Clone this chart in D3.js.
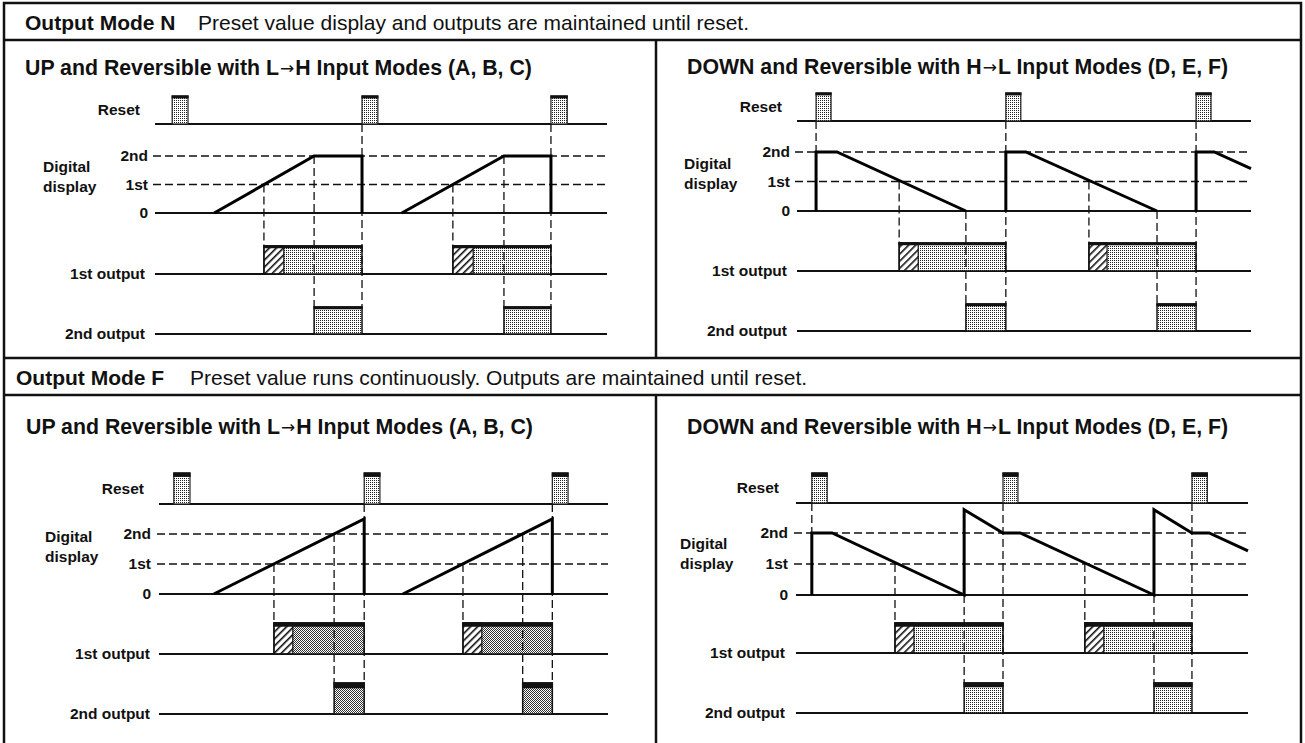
<!DOCTYPE html>
<html>
<head>
<meta charset="utf-8">
<script src="https://cdn.jsdelivr.net/npm/d3@7/dist/d3.min.js"></script>
<style>
  html, body { margin: 0; padding: 0; background: #fff; }
  svg { display: block; }
  text { font-family: "Liberation Sans", Arial, Helvetica, sans-serif; fill: #111; }
</style>
</head>
<body>
<svg id="chart" width="1305" height="743"></svg>
<script>
// ---------------- DATA ----------------
const headerN = ["Output Mode N", "Preset value display and outputs are maintained until reset."];
const headerF = ["Output Mode F", "Preset value runs continuously. Outputs are maintained until reset."];
const titleUp = ["UP and Reversible with L", "\u2192", "H Input Modes (A, B, C)"];
const titleDown = ["DOWN and Reversible with H", "\u2192", "L Input Modes (D, E, F)"];
const rowLabels = ["Reset", "Digital", "display", "1st output", "2nd output"];
const levelLabels = ["0", "1st", "2nd"];
const levelValues = [0, 1, 2];

// time axis 0..100 (arbitrary units) per panel; display levels 0 = "0", 1 = "1st", 2 = "2nd"
// Mode N, UP
const nUpReset = [[3.8, 7.3], [45.8, 49.3], [87.6, 91.2]];
const nUpDisplay = [
  [[13.1, 0], [35.2, 2], [45.8, 2], [45.8, 0]],
  [[54.6, 0], [77.2, 2], [87.6, 2], [87.6, 0]]
];
const nUpOut1 = [[24.1, 28.5, 45.8], [65.9, 70.4, 87.6]];   // start, end of hatched part, end
const nUpOut2 = [[35.2, 45.8], [77.2, 87.6]];
const nUpGuides = [[24.1, "lvl1", "out1"], [35.2, "lvl2", "out2"], [45.8, "reset", "out2"],
                   [65.9, "lvl1", "out1"], [77.2, "lvl2", "out2"], [87.6, "reset", "out2"]];

// Mode N, DOWN
const nDownReset = [[4.2, 7.5], [46.0, 49.3], [87.9, 91.2]];
const nDownDisplay = [
  [[4.2, 0], [4.2, 2], [8.8, 2], [37.2, 0]],
  [[46.0, 0], [46.0, 2], [50.4, 2], [79.3, 0]],
  [[87.9, 0], [87.9, 2], [91.9, 2], [100, 1.44]]
];
const nDownOut1 = [[22.5, 26.7, 46.0], [64.3, 68.3, 87.9]];
const nDownOut2 = [[37.2, 46.0], [79.3, 87.9]];
const nDownGuides = [[4.2, "reset", "lvl2"], [22.5, "lvl1", "out1"], [37.2, "lvl0", "out2"], [46.0, "reset", "out2"],
                     [64.3, "lvl1", "out1"], [79.3, "lvl0", "out2"], [87.9, "reset", "out2"]];

// Mode F, UP
const fUpReset = [[3.3, 6.9], [45.7, 49.2], [87.6, 91.1]];
const fUpDisplay = [
  [[12.2, 0], [45.7, 2.5], [45.7, 0]],
  [[54.3, 0], [87.6, 2.5], [87.6, 0]]
];
const fUpOut1 = [[25.6, 29.8, 45.7], [67.7, 71.9, 87.6]];
const fUpOut2 = [[39.0, 45.7], [81.0, 87.6]];
const fUpGuides = [[25.6, "lvl1", "out1"], [39.0, "lvl2", "out2"], [45.7, "reset", "out2"],
                   [67.7, "lvl1", "out1"], [81.0, "lvl2", "out2"], [87.6, "reset", "out2"]];

// Mode F, DOWN
const fDownReset = [[3.5, 6.9], [45.8, 49.1], [87.6, 91.0]];
const fDownDisplay = [
  [[3.5, 0], [3.5, 2], [8.0, 2], [37.2, 0], [37.2, 2.75], [45.8, 2], [49.6, 2], [79.2, 0],
   [79.2, 2.75], [87.6, 2], [91.4, 2], [100, 1.42]]
];
const fDownOut1 = [[21.9, 26.1, 45.8], [63.9, 68.1, 87.6]];
const fDownOut2 = [[37.2, 45.8], [79.2, 87.6]];
const fDownGuides = [[3.5, "reset", "lvl2"], [21.9, "lvl1", "out1"], [37.2, "lvl0", "out2"], [45.8, "reset", "out2"],
                     [63.9, "lvl1", "out1"], [79.2, "lvl0", "out2"], [87.6, "reset", "out2"]];

// ---------------- LAYOUT ----------------
const W = 1305, H = 743;
const frame = { x0: 4, x1: 1301, y0: 3, hN: 40, hTop: 358, hF: 395, divX: 656 };
const layouts = {
  nUp:   { titleX: 25, titleY: 75, x0: 155, x1: 607, resetTop: 96, resetBase: 124, lvl0: 213, lvl2: 156,
           out1Top: 246, out1Base: 274, out2Top: 307, out2Base: 334, lblReset: 140, lblLvl: 148, lblOut: 145,
           digX: 43, digY: [172, 192], topBar: 3, resetBar: 3, fill: "dotsL", out2Bar: 3 },
  nDown: { titleX: 687, titleY: 74, x0: 797, x1: 1251, resetTop: 93, resetBase: 121, lvl0: 211, lvl2: 152,
           out1Top: 243, out1Base: 271, out2Top: 304, out2Base: 331, lblReset: 782, lblLvl: 790, lblOut: 787,
           digX: 684, digY: [169, 189], topBar: 3, resetBar: 3, fill: "dotsL", out2Bar: 3 },
  fUp:   { titleX: 26, titleY: 434, x0: 159, x1: 608, resetTop: 473, resetBase: 504, lvl0: 594, lvl2: 534,
           out1Top: 623, out1Base: 654, out2Top: 683, out2Base: 714, lblReset: 144, lblLvl: 151, lblOut: 150,
           digX: 45, digY: [542, 562], topBar: 4.5, resetBar: 4.5, fill: "dotsD", out2Bar: 6 },
  fDown: { titleX: 687, titleY: 434, x0: 796, x1: 1248, resetTop: 473, resetBase: 503, lvl0: 595, lvl2: 533,
           out1Top: 623, out1Base: 653, out2Top: 683, out2Base: 713, lblReset: 779, lblLvl: 788, lblOut: 785,
           digX: 680, digY: [549, 569], topBar: 4.5, resetBar: 4.5, fill: "dotsL", out2Bar: 5 }
};
const headerLayout = { n: { x: 25, x2: 198, y: 30 }, f: { x: 16, x2: 190, y: 385 }, size: 21, titleSize: 21.3 };

const panels = [
  { lay: layouts.nUp, title: titleUp, reset: nUpReset, display: nUpDisplay, out1: nUpOut1, out2: nUpOut2, guides: nUpGuides },
  { lay: layouts.nDown, title: titleDown, reset: nDownReset, display: nDownDisplay, out1: nDownOut1, out2: nDownOut2, guides: nDownGuides },
  { lay: layouts.fUp, title: titleUp, reset: fUpReset, display: fUpDisplay, out1: fUpOut1, out2: fUpOut2, guides: fUpGuides },
  { lay: layouts.fDown, title: titleDown, reset: fDownReset, display: fDownDisplay, out1: fDownOut1, out2: fDownOut2, guides: fDownGuides }
];

// ---------------- DRAW ----------------
const svg = d3.select("#chart");
const defs = svg.append("defs");

function dotPattern(id, dots, color) {
  const p = defs.append("pattern").attr("id", id).attr("patternUnits", "userSpaceOnUse")
    .attr("width", 2).attr("height", 2);
  p.append("rect").attr("width", 2).attr("height", 2).attr("fill", "#fff");
  dots.forEach(([x, y]) => p.append("rect").attr("x", x).attr("y", y).attr("width", 1).attr("height", 1)
    .attr("fill", color).attr("shape-rendering", "crispEdges"));
}
dotPattern("dotsL", [[0, 0]], "#222");
dotPattern("dotsD", [[0, 0], [1, 1]], "#333");
const hatch = defs.append("pattern").attr("id", "hatch").attr("patternUnits", "userSpaceOnUse")
  .attr("width", 5).attr("height", 5).attr("patternTransform", "rotate(45)");
hatch.append("rect").attr("width", 5).attr("height", 5).attr("fill", "#fff");
hatch.append("rect").attr("width", 1.6).attr("height", 5).attr("fill", "#111");

// frame
const g0 = svg.append("g").attr("stroke", "#111").attr("fill", "none");
g0.append("rect").attr("x", frame.x0).attr("y", frame.y0).attr("width", frame.x1 - frame.x0)
  .attr("height", H + 20).attr("stroke-width", 2.5);
[frame.hN, frame.hTop, frame.hF].forEach(y =>
  g0.append("line").attr("x1", frame.x0).attr("x2", frame.x1).attr("y1", y).attr("y2", y).attr("stroke-width", 2.5));
g0.append("line").attr("x1", frame.divX).attr("x2", frame.divX).attr("y1", frame.hN).attr("y2", frame.hTop).attr("stroke-width", 2.5);
g0.append("line").attr("x1", frame.divX).attr("x2", frame.divX).attr("y1", frame.hF).attr("y2", H + 20).attr("stroke-width", 2.5);

function header(txt, pos) {
  svg.append("text").attr("x", pos.x).attr("y", pos.y).attr("font-size", headerLayout.size)
    .attr("font-weight", "bold").text(txt[0]);
  svg.append("text").attr("x", pos.x2).attr("y", pos.y).attr("font-size", headerLayout.size).text(txt[1]);
}
header(headerN, headerLayout.n);
header(headerF, headerLayout.f);

panels.forEach(p => {
  const L = p.lay;
  const g = svg.append("g");
  const x = d3.scaleLinear().domain([0, 100]).range([L.x0, L.x1]);
  const y = d3.scaleLinear().domain([0, 2]).range([L.lvl0, L.lvl2]);
  const rowY = { reset: L.resetBase, lvl0: y(0), lvl1: y(1), lvl2: y(2), out1: L.out1Top, out2: L.out2Top };

  // title
  const tt = g.append("text").attr("x", L.titleX).attr("y", L.titleY).attr("font-size", headerLayout.titleSize).attr("font-weight", "bold");
  tt.append("tspan").text(p.title[0]);
  tt.append("tspan").attr("font-weight", "normal").attr("font-family", "DejaVu Sans").attr("font-size", 17)
    .attr("dx", 1).attr("dy", -1).text(p.title[1]);
  tt.append("tspan").attr("dx", 1).attr("dy", 1).text(p.title[2]);

  // labels
  const lab = g.append("g").attr("font-size", 15.5).attr("font-weight", "bold");
  lab.append("text").attr("x", L.lblReset).attr("y", (L.resetTop + L.resetBase) / 2).attr("dy", "0.35em")
    .attr("text-anchor", "end").text(rowLabels[0]);
  lab.append("text").attr("x", L.digX).attr("y", L.digY[0]).text(rowLabels[1]);
  lab.append("text").attr("x", L.digX).attr("y", L.digY[1]).text(rowLabels[2]);
  lab.append("text").attr("x", L.lblOut).attr("y", L.out1Base).attr("dy", "0.3em").attr("text-anchor", "end").text(rowLabels[3]);
  lab.append("text").attr("x", L.lblOut).attr("y", L.out2Base).attr("dy", "0.3em").attr("text-anchor", "end").text(rowLabels[4]);
  levelValues.forEach((v, i) => lab.append("text").attr("x", L.lblLvl).attr("y", y(v)).attr("dy", "0.35em")
    .attr("text-anchor", "end").text(levelLabels[i]));

  // level dashed lines
  [1, 2].forEach(v => g.append("line").attr("x1", L.x0 - 2).attr("x2", L.x1).attr("y1", y(v)).attr("y2", y(v))
    .attr("stroke", "#111").attr("stroke-width", 1.3).attr("stroke-dasharray", "8,4"));

  // baselines
  [L.resetBase, y(0), L.out1Base, L.out2Base].forEach(yy =>
    g.append("line").attr("x1", L.x0).attr("x2", L.x1).attr("y1", yy).attr("y2", yy)
      .attr("stroke", "#111").attr("stroke-width", 2));

  // reset pulses
  p.reset.forEach(([a, b]) => {
    g.append("rect").attr("x", x(a)).attr("y", L.resetTop).attr("width", x(b) - x(a))
      .attr("height", L.resetBase - L.resetTop).attr("fill", "url(#dotsL)").attr("stroke", "#222").attr("stroke-width", 1.2);
    g.append("line").attr("x1", x(a) - 0.6).attr("x2", x(b) + 0.6).attr("y1", L.resetTop + L.resetBar / 2 - 0.6)
      .attr("y2", L.resetTop + L.resetBar / 2 - 0.6).attr("stroke", "#111").attr("stroke-width", L.resetBar);
  });

  // output boxes
  p.out1.forEach(([a, h, b]) => {
    g.append("rect").attr("x", x(a)).attr("y", L.out1Top).attr("width", x(b) - x(a))
      .attr("height", L.out1Base - L.out1Top).attr("fill", `url(#${L.fill})`);
    g.append("rect").attr("x", x(a)).attr("y", L.out1Top).attr("width", x(h) - x(a))
      .attr("height", L.out1Base - L.out1Top).attr("fill", "url(#hatch)").attr("stroke", "#111").attr("stroke-width", 1.2);
    g.append("rect").attr("x", x(a)).attr("y", L.out1Top).attr("width", x(b) - x(a))
      .attr("height", L.out1Base - L.out1Top).attr("fill", "none").attr("stroke", "#111").attr("stroke-width", 1.5);
    g.append("line").attr("x1", x(a) - 0.7).attr("x2", x(b) + 0.7).attr("y1", L.out1Top + L.topBar / 2 - 0.7)
      .attr("y2", L.out1Top + L.topBar / 2 - 0.7).attr("stroke", "#111").attr("stroke-width", L.topBar);
  });
  p.out2.forEach(([a, b]) => {
    g.append("rect").attr("x", x(a)).attr("y", L.out2Top).attr("width", x(b) - x(a))
      .attr("height", L.out2Base - L.out2Top).attr("fill", `url(#${L.fill})`).attr("stroke", "#111").attr("stroke-width", 1.5);
    g.append("line").attr("x1", x(a) - 0.7).attr("x2", x(b) + 0.7).attr("y1", L.out2Top + L.out2Bar / 2 - 0.7)
      .attr("y2", L.out2Top + L.out2Bar / 2 - 0.7).attr("stroke", "#111").attr("stroke-width", L.out2Bar);
  });

  // guides
  p.guides.forEach(([t, from, to]) => {
    g.append("line").attr("x1", x(t)).attr("x2", x(t)).attr("y1", rowY[from]).attr("y2", rowY[to])
      .attr("stroke", "#111").attr("stroke-width", 1.3).attr("stroke-dasharray", "8,4");
  });

  // display waveform
  const line = d3.line().x(d => x(d[0])).y(d => y(d[1]));
  p.display.forEach(seg => g.append("path").attr("d", line(seg)).attr("fill", "none")
    .attr("stroke", "#000").attr("stroke-width", 3).attr("stroke-linejoin", "miter"));
});
</script>
</body>
</html>
